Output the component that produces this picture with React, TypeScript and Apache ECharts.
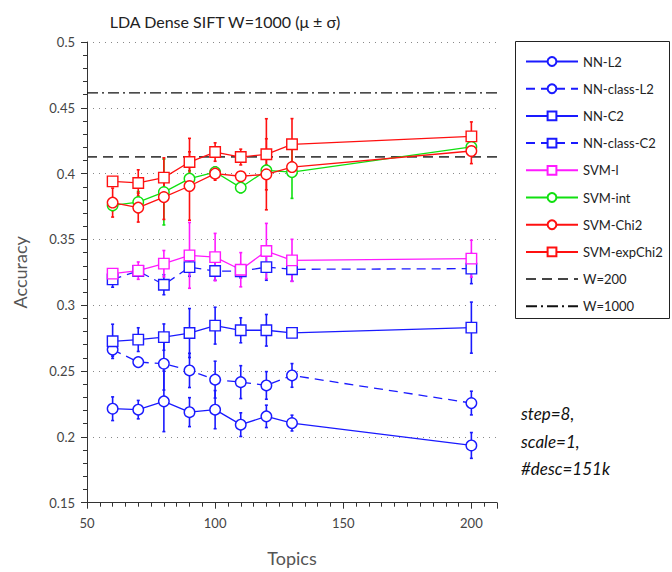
import React, { useEffect, useRef } from "react";
import * as echarts from "echarts";

const topics = [60, 70, 80, 90, 100, 110, 120, 130, 200];

const nnL2 = [0.2214, 0.2207, 0.227, 0.2188, 0.2207, 0.2093, 0.2156, 0.2105, 0.1935];
const nnL2Sd = [0.009, 0.007, 0.023, 0.011, 0.0145, 0.009, 0.0085, 0.006, 0.0098];
const nnClassL2 = [0.2663, 0.2568, 0.2556, 0.2505, 0.2435, 0.2416, 0.2391, 0.2467, 0.2257];
const nnClassL2Sd = [0.005, 0.002, 0.02, 0.013, 0.014, 0.0125, 0.0105, 0.009, 0.009];
const nnC2 = [0.2726, 0.2739, 0.2758, 0.2789, 0.2845, 0.281, 0.281, 0.279, 0.283];
const nnC2Sd = [0.013, 0.009, 0.01, 0.0186, 0.014, 0.0095, 0.012, 0.002, 0.0194];
const nnClassC2 = [0.3197, 0.326, 0.3156, 0.329, 0.326, 0.3258, 0.329, 0.3273, 0.3278];
const nnClassC2Sd = [0.006, 0.003, 0.0076, 0.007, 0.007, 0.005, 0.01, 0.009, 0.0114];
const svmL = [0.324, 0.3263, 0.3316, 0.3379, 0.3366, 0.327, 0.3412, 0.3341, 0.3354];
const svmLSd = [0.002, 0.0066, 0.01, 0.025, 0.018, 0.013, 0.021, 0.016, 0.014];
const svmInt = [0.3759, 0.3784, 0.386, 0.3962, 0.4012, 0.3894, 0.4025, 0.4012, 0.4203];
const svmIntSd = [0.004, 0.008, 0.025, 0.006, 0.004, 0.004, 0.004, 0.02, 0.003];
const svmChi2 = [0.378, 0.3742, 0.3822, 0.3906, 0.4, 0.398, 0.3995, 0.405, 0.4172];
const svmChi2Sd = [0.011, 0.011, 0.017, 0.026, 0.005, 0.003, 0.027, 0.004, 0.0096];
const svmExpChi2 = [0.3941, 0.3929, 0.397, 0.4088, 0.4164, 0.4126, 0.4147, 0.4223, 0.4283];
const svmExpChi2Sd = [0.003, 0.01, 0.015, 0.018, 0.007, 0.006, 0.027, 0.0195, 0.011];

const w200 = 0.4127;
const w1000 = 0.4613;

const xMin = 50;
const xMax = 210;
const yMin = 0.15;
const yMax = 0.5;

const FONT = "Lato, 'DejaVu Sans', sans-serif";

type Spec = {
  name: string;
  mean: number[];
  sd: number[];
  color: string;
  symbol: string;
  dashed: boolean;
};

const specs: Spec[] = [
  { name: "NN-L2", mean: nnL2, sd: nnL2Sd, color: "#1a1aff", symbol: "circle", dashed: false },
  { name: "NN-class-L2", mean: nnClassL2, sd: nnClassL2Sd, color: "#1a1aff", symbol: "circle", dashed: true },
  { name: "NN-C2", mean: nnC2, sd: nnC2Sd, color: "#1a1aff", symbol: "rect", dashed: false },
  { name: "NN-class-C2", mean: nnClassC2, sd: nnClassC2Sd, color: "#1a1aff", symbol: "rect", dashed: true },
  { name: "SVM-l", mean: svmL, sd: svmLSd, color: "#ff1aff", symbol: "rect", dashed: false },
  { name: "SVM-int", mean: svmInt, sd: svmIntSd, color: "#10e010", symbol: "circle", dashed: false },
  { name: "SVM-Chi2", mean: svmChi2, sd: svmChi2Sd, color: "#ff1010", symbol: "circle", dashed: false },
  { name: "SVM-expChi2", mean: svmExpChi2, sd: svmExpChi2Sd, color: "#ff1010", symbol: "rect", dashed: false },
];

export default function App() {
  const ref = useRef<HTMLDivElement>(null);

  useEffect(() => {
    if (!ref.current) return;
    const chart = echarts.init(ref.current, null, { renderer: "svg" });

    const errSeries: any[] = specs.map((s) => ({
      type: "custom",
      name: s.name + " err",
      z: 2,
      silent: true,
      encode: { x: 0, y: [1, 2] },
      data: topics.map((t, i) => [t, s.mean[i] - s.sd[i], s.mean[i] + s.sd[i]]),
      renderItem: (params: any, api: any) => {
        const x = api.value(0);
        const p1 = api.coord([x, api.value(1)]);
        const p2 = api.coord([x, api.value(2)]);
        const st = { stroke: s.color, lineWidth: 1.6 };
        return {
          type: "group",
          children: [
            { type: "line", shape: { x1: p1[0], y1: p1[1], x2: p2[0], y2: p2[1] }, style: st },
            { type: "line", shape: { x1: p1[0] - 1.5, y1: p1[1], x2: p1[0] + 1.5, y2: p1[1] }, style: st },
            { type: "line", shape: { x1: p2[0] - 1.5, y1: p2[1], x2: p2[0] + 1.5, y2: p2[1] }, style: st },
          ],
        };
      },
    }));

    const lineSeries: any[] = specs.map((s) => ({
      type: "line",
      name: s.name,
      z: 3,
      data: topics.map((t, i) => [t, s.mean[i]]),
      symbol: s.symbol,
      symbolSize: 10.5,
      showSymbol: true,
      color: s.color,
      lineStyle: { color: s.color, width: 1.3, type: s.dashed ? [9, 6] : "solid" },
      itemStyle: { color: "#ffffff", borderColor: s.color, borderWidth: 1.4 },
    }));

    const refSeries: any[] = [
      {
        type: "line",
        name: "W=200",
        z: 1,
        data: [[xMin, w200], [xMax, w200]],
        symbol: "none",
        color: "#444",
        lineStyle: { color: "#444", width: 1.6, type: [10, 6] },
      },
      {
        type: "line",
        name: "W=1000",
        z: 1,
        data: [[xMin, w1000], [xMax, w1000]],
        symbol: "none",
        color: "#111",
        lineStyle: { color: "#111", width: 1.3, type: [11, 4, 2, 4] },
      },
    ];

    const legendData: any[] = specs
      .map((s) => ({ name: s.name } as any))
      .concat([
        { name: "W=200", itemStyle: { opacity: 0 } },
        { name: "W=1000", itemStyle: { opacity: 0 } },
      ]);

    chart.setOption({
      animation: false,
      grid: { left: 87, top: 42, width: 410, height: 460.7, containLabel: false },
      xAxis: {
        type: "value",
        min: xMin,
        max: xMax,
        interval: 50,
        name: "Topics",
        nameLocation: "middle",
        nameGap: 46,
        nameTextStyle: { fontFamily: FONT, fontSize: 18, color: "#555" },
        axisLine: { show: true, lineStyle: { color: "#333", width: 1 } },
        axisTick: { show: true, inside: false, length: 6, lineStyle: { color: "#333" } },
        minorTick: { show: true, splitNumber: 10, length: 4, lineStyle: { color: "#333" } },
        axisLabel: {
          fontFamily: FONT,
          fontSize: 13,
          color: "#444",
          margin: 14,
          formatter: (v: number) => (v === xMax ? "" : String(v)),
        },
        splitLine: { show: false },
      },
      yAxis: {
        type: "value",
        min: yMin,
        max: yMax,
        interval: 0.05,
        name: "Accuracy",
        nameLocation: "middle",
        nameGap: 58,
        nameTextStyle: { fontFamily: FONT, fontSize: 18, color: "#555" },
        axisLine: { show: true, lineStyle: { color: "#333", width: 1 } },
        axisTick: { show: true, inside: false, length: 6, lineStyle: { color: "#333" } },
        minorTick: { show: true, splitNumber: 5, length: 4, lineStyle: { color: "#333" } },
        axisLabel: { fontFamily: FONT, fontSize: 13, color: "#444", margin: 12 },
        splitLine: { show: true, lineStyle: { color: "#888", width: 1, type: [1, 5] } },
      },
      legend: {
        orient: "vertical",
        left: 520,
        top: 50,
        itemWidth: 52,
        itemHeight: 11,
        itemGap: 14.2,
        textStyle: { fontFamily: FONT, fontSize: 13, color: "#222" },
        data: legendData,
        selectedMode: false,
      },
      graphic: [
        {
          type: "rect",
          shape: { x: 515.5, y: 41.5, width: 154, height: 277 },
          style: { fill: "none", stroke: "#222", lineWidth: 1 },
          silent: true,
        },
        {
          type: "text",
          x: 225,
          y: 21,
          style: {
            text: "LDA Dense SIFT W=1000 (\u03bc \u00b1 \u03c3)",
            fontFamily: FONT,
            fontSize: 16,
            fill: "#222",
            textAlign: "center",
            textVerticalAlign: "middle",
          },
        },
        {
          type: "text",
          x: 521,
          y: 400,
          style: {
            text: "step=8,\nscale=1,\n#desc=151k",
            fontFamily: FONT,
            fontSize: 17,
            fontStyle: "italic",
            lineHeight: 27.5,
            fill: "#111",
          },
        },
      ],
      series: [...refSeries, ...errSeries, ...lineSeries],
    });

    return () => chart.dispose();
  }, []);

  return (
    <div
      ref={ref}
      style={{ position: "absolute", left: 0, top: 0, width: 672, height: 572, background: "#fff" }}
    />
  );
}
